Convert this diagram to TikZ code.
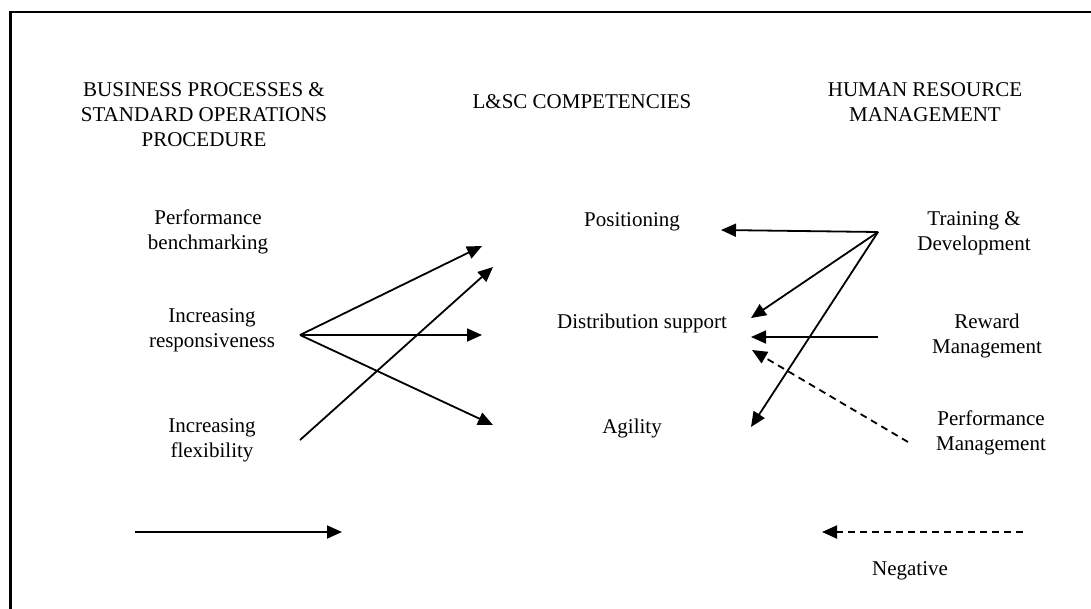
\documentclass[tikz,border=0pt]{standalone}
\usepackage{fontspec}
\setmainfont{Liberation Serif}
\usetikzlibrary{arrows.meta}
\tikzset{
  lbl/.style={align=center, inner sep=0pt, font=\fontsize{21}{25}\selectfont},
  conn/.style={line width=1.8pt, -{Triangle[length=15pt,width=13pt]}},
  negconn/.style={conn, dash pattern=on 7pt off 5pt},
  frame/.style={line width=2.5pt}
}
\begin{document}
\begin{tikzpicture}[x=1pt,y=-1pt]
\useasboundingbox (0,0) rectangle (1091,608);
\draw[frame] (10.5,620) -- (10.5,12) -- (1100,12);
% headers
\node[lbl] (bp) at (204,115) {BUSINESS PROCESSES \&\\STANDARD OPERATIONS\\PROCEDURE};
\node[lbl] (lsc) at (582,102) {L\&SC COMPETENCIES};
\node[lbl] (hrm) at (925,102) {HUMAN RESOURCE\\MANAGEMENT};
% left column
\node[lbl] (pb) at (208,232) {Performance\\benchmarking};
\node[lbl] (ir) at (212,330) {Increasing\\responsiveness};
\node[lbl] (if) at (212,440) {Increasing\\flexibility};
% middle column
\node[lbl] (pos) at (632,222) {Positioning};
\node[lbl] (ds) at (642,323) {Distribution support};
\node[lbl] (ag) at (632,428) {Agility};
% right column
\node[lbl] (td) at (974,233) {Training \&\\Development};
\node[lbl] (rm) at (987,336) {Reward\\Management};
\node[lbl] (pm) at (991,433) {Performance\\Management};
\node[lbl] (neg) at (910,571) {Negative};
% connector end points
\coordinate (irp) at (300,335);
\coordinate (ifp) at (300,440);
\coordinate (t1) at (482,246);
\coordinate (t2) at (493,267);
\coordinate (t3) at (482,335);
\coordinate (t4) at (493,425);
\coordinate (tdp) at (878,232);
\coordinate (u1) at (721,230);
\coordinate (u2) at (751,318);
\coordinate (u3) at (751,427);
\coordinate (rwp) at (878,337);
\coordinate (u4) at (751,337);
\coordinate (pmp) at (908,442);
\coordinate (u5) at (752,350);
\coordinate (la) at (135,532);
\coordinate (lb) at (342,532);
\coordinate (na) at (1023,532);
\coordinate (nb) at (822,532);
% connectors
\draw[conn] (irp) -- (t1);
\draw[conn] (irp) -- (t3);
\draw[conn] (irp) -- (t4);
\draw[conn] (ifp) -- (t2);
\draw[conn] (tdp) -- (u1);
\draw[conn] (tdp) -- (u2);
\draw[conn] (tdp) -- (u3);
\draw[conn] (rwp) -- (u4);
\draw[negconn] (pmp) -- (u5);
\draw[conn] (la) -- (lb);
\draw[negconn] (na) -- (nb);
\end{tikzpicture}
\end{document}
